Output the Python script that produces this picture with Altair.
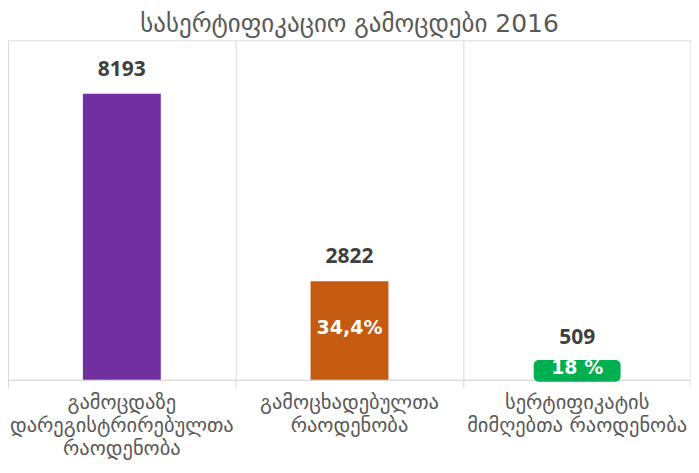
import altair as alt
import pandas as pd

categories = [
    "გამოცდაზე|დარეგისტრირებულთა|რაოდენობა",
    "გამოცხადებულთა|რაოდენობა",
    "სერტიფიკატის|მიმღებთა რაოდენობა",
]
values = [8193, 2822, 509]
value_labels = ["8193", "2822", "509"]
pct_labels = ["", "34,4%", "18 %"]
colors = ["#7030a0", "#c55a11", "#00b050"]

df = pd.DataFrame({
    "cat": categories,
    "value": values,
    "vlabel": value_labels,
    "pct": pct_labels,
    "color": colors,
})

x = alt.X(
    "cat:N",
    sort=categories,
    title=None,
    scale=alt.Scale(paddingInner=0, paddingOuter=0),
    axis=alt.Axis(
        labelAngle=0,
        labelExpr="split(datum.label, '|')",
        labelFont="DejaVu Sans",
        labelFontSize=20.5,
        labelColor="#595959",
        labelLineHeight=23,
        labelPadding=5,
        labelLimit=400,
        bandPosition=0,
        grid=True,
        gridColor="#d9d9d9",
        gridWidth=1,
        ticks=True,
        tickColor="#d9d9d9",
        tickSize=8,
        domainColor="#d9d9d9",
        domainWidth=1,
    ),
)
y = alt.Y("value:Q", scale=alt.Scale(domain=[0, 9723]), axis=None)

base = alt.Chart(df)

bars = base.transform_filter(alt.datum.value > 600).mark_bar(size=78).encode(
    x=x, y=y, color=alt.Color("color:N", scale=None)
)
green = base.transform_filter(alt.datum.value < 600).mark_bar(
    size=83, cornerRadius=3, stroke="#00b050", strokeWidth=4, strokeJoin="round"
).encode(
    x=x, y=y, color=alt.Color("color:N", scale=None)
)

vtext = base.mark_text(
    font="Open Sans", fontWeight="bold", fontSize=21, color="#404040",
    baseline="middle", dy=-24,
).encode(x=x, y=y, text="vlabel:N")

ptext = base.transform_calculate(half="datum.value / 2").mark_text(
    font="DejaVu Sans", fontWeight="bold", fontSize=19, color="white",
    baseline="middle", dy=-3,
).encode(x=x, y=alt.Y("half:Q", scale=alt.Scale(domain=[0, 9723]), axis=None), text="pct:N")

right_edge = alt.Chart(pd.DataFrame({"cat": [categories[-1]]})).mark_rule(
    color="#d9d9d9", strokeWidth=1
).encode(
    x=alt.X("cat:N", sort=categories, bandPosition=1, title=None),
    y=alt.value(0),
    y2=alt.value(348),
)

chart = alt.layer(bars, green, vtext, ptext, right_edge).properties(
    width=684,
    height=340,
    padding={"left": 0, "right": 0, "top": 32, "bottom": 80},
    autosize=alt.AutoSizeParams(type="none"),
    title=alt.TitleParams(
        "სასერტიფიკაციო გამოცდები 2016",
        font="DejaVu Sans",
        fontSize=25,
        fontWeight="normal",
        color="#595959",
        anchor="middle",
        offset=3,
    ),
).configure_view(stroke=None).configure(background="white")

chart.save("out.html", embed_options={"renderer": "svg", "actions": False})
